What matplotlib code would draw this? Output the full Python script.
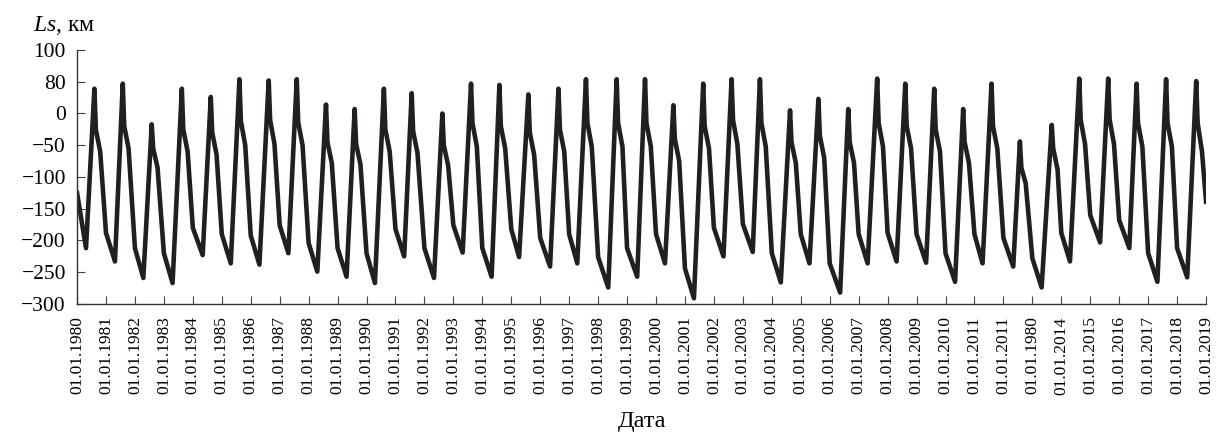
import matplotlib
matplotlib.use("Agg")
import matplotlib.pyplot as plt

plt.rcParams['font.family'] = ['Liberation Serif', 'DejaVu Serif']
plt.rcParams['mathtext.fontset'] = 'custom'
plt.rcParams['mathtext.rm'] = 'Liberation Serif'
plt.rcParams['mathtext.it'] = 'Liberation Serif:italic'

# key points of each yearly cycle (fractional year, km)
start_t, start_v = 1980.0, -125
end_t, end_v = 2019.0, -139

trough_t = [1980.31, 1981.31, 1982.29, 1983.30, 1984.34, 1985.31, 1986.30, 1987.30,
            1988.30, 1989.31, 1990.29, 1991.30, 1992.33, 1993.32, 1994.32, 1995.27,
            1996.34, 1997.28, 1998.35, 1999.35, 2000.31, 2001.31, 2002.33, 2003.34,
            2004.31, 2005.30, 2006.36, 2007.31, 2008.31, 2009.33, 2010.33, 2011.28,
            2012.34, 2013.32, 2014.30, 2015.34, 2016.35, 2017.32, 2018.35]
trough_v = [-212, -233, -259, -267, -223, -236, -238, -220, -249, -257, -267, -225,
            -259, -219, -257, -226, -241, -236, -274, -257, -236, -291, -225, -218,
            -266, -236, -282, -236, -233, -235, -265, -236, -241, -274, -233, -203,
            -212, -265, -258]

peak_t = [1980.60, 1981.58, 1982.58, 1983.62, 1984.62, 1985.61, 1986.62, 1987.59,
          1988.60, 1989.59, 1990.60, 1991.56, 1992.62, 1993.61, 1994.59, 1995.59,
          1996.63, 1997.58, 1998.64, 1999.62, 2000.60, 2001.63, 2002.61, 2003.59,
          2004.63, 2005.61, 2006.64, 2007.64, 2008.61, 2009.61, 2010.61, 2011.59,
          2012.57, 2013.67, 2014.62, 2015.62, 2016.60, 2017.62, 2018.66]
peak_v = [39, 47, -17, 39, 26, 54, 52, 54, 14, 7, 39, 32, 0, 47, 45, 30, 39, 54,
          54, 54, 13, 47, 54, 54, 5, 23, 7, 55, 47, 39, 7, 47, -44, -18, 55, 55,
          47, 54, 51]

# just after the spike (peak + 0.05 yr)
shoulder_v = [-25, -20, -55, -25, -30, -12, -10, -14, -45, -48, -25, -28, -50, -15,
              -20, -30, -25, -15, -15, -15, -40, -20, -10, -15, -45, -35, -45, -15,
              -20, -25, -45, -20, -85, -55, -10, -10, -15, -15, -15]

# end of the slow part of the fall (peak + 0.2 yr)
drop_v = [-60, -55, -85, -60, -65, -50, -48, -50, -78, -80, -60, -62, -82, -52,
          -55, -65, -60, -52, -52, -52, -75, -55, -48, -52, -78, -70, -78, -52,
          -55, -60, -78, -55, -110, -88, -48, -48, -52, -52, -60]

# value on 1 January of 1981 ... 2018
jan_v = [-188, -212, -220, -180, -190, -192, -176, -204, -212, -220, -182, -212,
         -176, -212, -182, -196, -190, -226, -212, -190, -244, -180, -174, -220,
         -190, -236, -190, -188, -190, -220, -190, -196, -228, -188, -160, -168,
         -220, -212]

tick_years = list(range(1980, 2020))
tick_labels = ['01.01.%d' % y for y in range(1980, 2012)] + \
              ['01.01.2011', '01.01.1980'] + \
              ['01.01.%d' % y for y in range(2014, 2020)]

y_ticks = [100, 50, 0, -50, -100, -150, -200, -250, -300]
y_labels = ['100', '80', '0', '\u221250', '\u2212100', '\u2212150', '\u2212200',
            '\u2212250', '\u2212300']

# assemble the line from the key points
t = [start_t]
v = [start_v]
for i in range(len(trough_t)):
    t += [trough_t[i], peak_t[i], peak_t[i] + 0.05, peak_t[i] + 0.2]
    v += [trough_v[i], peak_v[i], shoulder_v[i], drop_v[i]]
    if i < len(jan_v):
        t.append(1981 + i)
        v.append(jan_v[i])
t.append(end_t)
v.append(end_v)

fig = plt.figure(figsize=(12.17, 4.32), dpi=100)
ax = fig.add_axes([0.0633, 0.2963, 0.9277, 0.588])
ax.plot(t, v, color='#231f20', lw=3.3, solid_joinstyle='round')

ax.set_xlim(1980, 2019)
ax.set_ylim(-300, 100)
ax.set_xticks(tick_years)
ax.set_xticklabels(tick_labels, rotation=90, fontsize=12.5)
ax.set_yticks(y_ticks)
ax.set_yticklabels(y_labels, fontsize=15.5)
ax.tick_params(axis='both', direction='in', length=6, width=0.8, color='#444444')
ax.tick_params(axis='x', pad=9)
ax.tick_params(axis='y', pad=8)

for s in ['top', 'right']:
    ax.spines[s].set_visible(False)
for s in ['left', 'bottom']:
    ax.spines[s].set_color('#333333')
    ax.spines[s].set_linewidth(1.0)

ax.set_xlabel('Дата', fontsize=17.5, labelpad=12)
fig.text(0.027, 0.942, '$Ls$, км', fontsize=17, va='center', ha='left')

fig.savefig('out.png', dpi=100)
